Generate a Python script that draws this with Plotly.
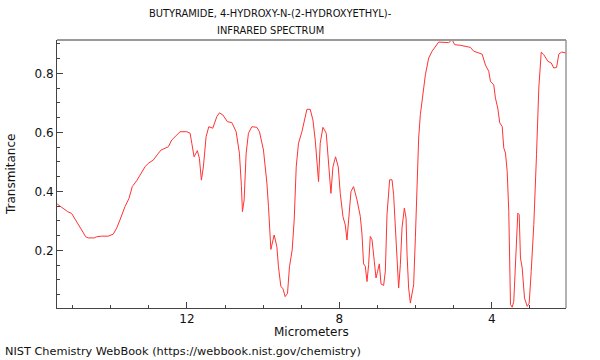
import plotly.graph_objects as go

# Wavelength (micrometers) and transmittance
wavelength = [
    15.405, 15.289, 15.131, 15.026, 14.940, 14.853, 14.763, 14.658, 14.590, 14.432,
    14.369, 14.238, 14.064, 13.933, 13.844, 13.757, 13.626, 13.520, 13.434, 13.318,
    13.205, 13.100, 13.013, 12.882, 12.766, 12.679, 12.574, 12.487, 12.398, 12.311,
    12.180, 12.004, 11.917, 11.872, 11.812, 11.725, 11.673, 11.620, 11.568, 11.497,
    11.426, 11.321, 11.216, 11.147, 11.058, 10.937, 10.821, 10.708, 10.622, 10.569,
    10.543, 10.498, 10.445, 10.385, 10.296, 10.164, 10.096, 9.991, 9.901, 9.859,
    9.796, 9.710, 9.639, 9.597, 9.534, 9.481, 9.421, 9.360, 9.308, 9.237,
    9.184, 9.131, 9.071, 8.982, 8.921, 8.850, 8.764, 8.693, 8.632, 8.587,
    8.545, 8.501, 8.430, 8.343, 8.283, 8.220, 8.167, 8.099, 8.028, 7.975,
    7.904, 7.844, 7.799, 7.746, 7.694, 7.626, 7.536, 7.449, 7.405, 7.363,
    7.318, 7.273, 7.231, 7.187, 7.142, 7.082, 7.037, 6.995, 6.950, 6.905,
    6.837, 6.792, 6.748, 6.679, 6.616, 6.574, 6.522, 6.485, 6.443, 6.398,
    6.354, 6.293, 6.248, 6.222, 6.180, 6.135, 6.091, 6.049, 6.004, 5.959,
    5.917, 5.873, 5.802, 5.741, 5.654, 5.565, 5.392, 5.216, 5.129, 5.040,
    4.971, 4.821, 4.559, 4.472, 4.251, 4.164, 4.078, 4.033, 3.946, 3.902,
    3.841, 3.789, 3.725, 3.683, 3.639, 3.594, 3.552, 3.507, 3.463, 3.421,
    3.376, 3.315, 3.279, 3.245, 3.200, 3.139, 3.068, 3.016, 2.963, 2.895,
    2.824, 2.764, 2.700, 2.632, 2.527, 2.438, 2.369, 2.298, 2.238, 2.167,
    2.049,
]
transmittance = [
    0.357, 0.346, 0.331, 0.325, 0.308, 0.289, 0.269, 0.246, 0.242, 0.242,
    0.246, 0.248, 0.248, 0.255, 0.275, 0.303, 0.348, 0.376, 0.416, 0.436,
    0.461, 0.483, 0.495, 0.506, 0.526, 0.540, 0.546, 0.551, 0.574, 0.586,
    0.602, 0.602, 0.597, 0.563, 0.517, 0.538, 0.512, 0.438, 0.483, 0.585,
    0.619, 0.614, 0.653, 0.666, 0.659, 0.636, 0.633, 0.602, 0.529, 0.416,
    0.331, 0.371, 0.529, 0.597, 0.619, 0.617, 0.602, 0.540, 0.428, 0.348,
    0.203, 0.252, 0.212, 0.144, 0.077, 0.071, 0.043, 0.054, 0.144, 0.201,
    0.303, 0.483, 0.563, 0.602, 0.642, 0.678, 0.678, 0.642, 0.574, 0.483,
    0.433, 0.563, 0.617, 0.597, 0.506, 0.393, 0.483, 0.517, 0.483, 0.393,
    0.314, 0.286, 0.235, 0.325, 0.399, 0.416, 0.371, 0.315, 0.255, 0.154,
    0.146, 0.094, 0.151, 0.247, 0.236, 0.163, 0.106, 0.129, 0.154, 0.086,
    0.081, 0.129, 0.321, 0.439, 0.439, 0.388, 0.276, 0.185, 0.072, 0.151,
    0.276, 0.343, 0.309, 0.185, 0.072, 0.021, 0.049, 0.083, 0.242, 0.468,
    0.581, 0.660, 0.727, 0.795, 0.852, 0.875, 0.906, 0.906, 0.904, 0.914,
    0.897, 0.895, 0.888, 0.875, 0.865, 0.828, 0.807, 0.773, 0.761, 0.716,
    0.682, 0.632, 0.620, 0.547, 0.530, 0.468, 0.332, 0.016, 0.007, 0.027,
    0.174, 0.326, 0.321, 0.174, 0.140, 0.038, 0.010, 0.021, 0.129, 0.287,
    0.524, 0.750, 0.872, 0.863, 0.841, 0.835, 0.818, 0.820, 0.865, 0.872,
    0.869,
]

x_tickvals = [12, 8, 4]
y_tickvals = [0.2, 0.4, 0.6, 0.8]
title_lines = ["BUTYRAMIDE, 4-HYDROXY-N-(2-HYDROXYETHYL)-", "INFRARED SPECTRUM"]

FONT = "DejaVu Sans"
TITLE_FONT = "DejaVu Sans Condensed, DejaVu Sans"

fig = go.Figure()
fig.add_trace(go.Scatter(
    x=wavelength, y=transmittance, mode="lines",
    line=dict(color="#ff3333", width=1), hoverinfo="skip", showlegend=False,
))

fig.update_layout(
    width=600, height=360,
    margin=dict(l=57, r=34, t=40, b=52),
    paper_bgcolor="white", plot_bgcolor="white",
    font=dict(family=FONT, size=12, color="#111"),
    showlegend=False,
    xaxis=dict(
        range=[15.41, 2.05], showgrid=False, zeroline=False,
        showline=True, linecolor="#444", linewidth=1,
        tickmode="array", tickvals=x_tickvals, ticktext=[str(v) for v in x_tickvals],
        ticks="inside", ticklen=6, tickcolor="#444", tickwidth=1,
        minor=dict(tickmode="linear", tick0=0, dtick=1, ticks="inside", ticklen=3,
                   tickcolor="#444", tickwidth=1, showgrid=False),
        tickfont=dict(family=FONT, size=12, color="#111"),
    ),
    yaxis=dict(
        range=[0.0044, 0.913], showgrid=False, zeroline=False,
        showline=True, linecolor="#444", linewidth=1,
        tickmode="array", tickvals=y_tickvals, ticktext=[f"{v:.1f}" for v in y_tickvals],
        ticks="inside", ticklen=6, tickcolor="#444", tickwidth=1,
        minor=dict(tickmode="linear", tick0=0, dtick=0.05, ticks="inside", ticklen=3,
                   tickcolor="#444", tickwidth=1, showgrid=False),
        tickfont=dict(family=FONT, size=12, color="#111"),
    ),
    shapes=[
        dict(type="line", xref="paper", yref="paper", x0=0, x1=1, y0=1, y1=1,
             line=dict(color="#999", width=2)),
        dict(type="line", xref="paper", yref="paper", x0=1, x1=1, y0=0, y1=1,
             line=dict(color="#999", width=1.5)),
    ],
    annotations=[
        dict(text=title_lines[0], xref="paper", yref="paper", x=0.4204, y=1.1007,
             xanchor="center", yanchor="middle", showarrow=False,
             font=dict(family=TITLE_FONT, size=11, color="#111")),
        dict(text=title_lines[1], xref="paper", yref="paper", x=0.4204, y=1.0373,
             xanchor="center", yanchor="middle", showarrow=False,
             font=dict(family=TITLE_FONT, size=11, color="#111")),
        dict(text="Micrometers", xref="paper", yref="paper", x=0.5, y=-0.09,
             xanchor="center", yanchor="middle", showarrow=False,
             font=dict(family=FONT, size=12, color="#111")),
        dict(text="Transmitance", xref="paper", yref="paper", x=-0.0904, y=0.5,
             xanchor="center", yanchor="middle", showarrow=False, textangle=-90,
             font=dict(family=FONT, size=12, color="#111")),
        dict(text="NIST Chemistry WebBook (https://webbook.nist.gov/chemistry)",
             xref="paper", yref="paper", x=-0.106, y=-0.164,
             xanchor="left", yanchor="middle", showarrow=False,
             font=dict(family=FONT, size=11.3, color="#111")),
    ],
)

fig.write_html(
    "out.html",
    config={"displayModeBar": False},
    post_script="document.body.style.margin='0px';document.body.style.padding='0px';",
)
